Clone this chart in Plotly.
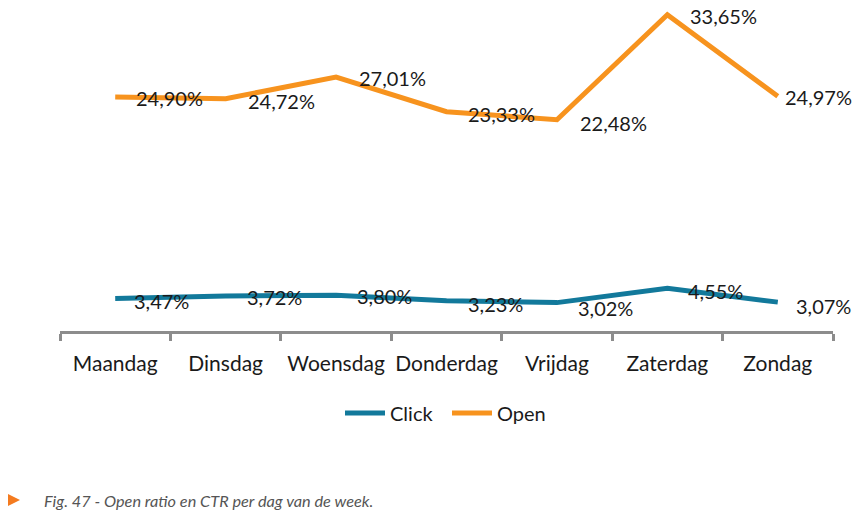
import plotly.graph_objects as go

days = ["Maandag", "Dinsdag", "Woensdag", "Donderdag", "Vrijdag", "Zaterdag", "Zondag"]
click = [3.47, 3.72, 3.80, 3.23, 3.02, 4.55, 3.07]
open_ = [24.90, 24.72, 27.01, 23.33, 22.48, 33.65, 24.97]
caption = "Fig. 47 - Open ratio en CTR per dag van de week."

W, H = 860, 514
ML, MR, MT, MB = 60, 27, 2, 183
PW, PH = W - ML - MR, H - MT - MB

BLUE = "#12799B"
ORANGE = "#F7931E"
FONT = "Lato"

def fmt(v):
    return f"{v:.2f}%".replace(".", ",")

fig = go.Figure()
fig.add_trace(go.Scatter(x=days, y=click, name="Click", mode="lines",
                         line=dict(color=BLUE, width=5)))
fig.add_trace(go.Scatter(x=days, y=open_, name="Open", mode="lines",
                         line=dict(color=ORANGE, width=5)))

shifts_click = [17, 19, 19, 19, 19, 19, 16]
yshift_click = [-3, -1, -1, -3, -5, -3, -4]
shifts_open = [19, 20, 21, 19, 21, 21, 5]
yshift_open = [-1, -2, -1, -2, -3, -1, -1]

for i, d in enumerate(days):
    fig.add_annotation(x=d, y=click[i], text=fmt(click[i]), showarrow=False,
                       xanchor="left", yanchor="middle", xshift=shifts_click[i],
                       yshift=yshift_click[i],
                       font=dict(family=FONT, size=20, color="#1a1a1a"))
    fig.add_annotation(x=d, y=open_[i], text=fmt(open_[i]), showarrow=False,
                       xanchor="left", yanchor="middle", xshift=shifts_open[i],
                       yshift=yshift_open[i],
                       font=dict(family=FONT, size=20, color="#1a1a1a"))

def px(x):
    return (x - ML) / PW

def py(y):
    return (H - MB - y) / PH

# caption
fig.add_annotation(xref="paper", yref="paper", x=px(42), y=py(500), text=caption,
                   showarrow=False, xanchor="left", yanchor="middle",
                   font=dict(family=FONT, size=16.3, color="#555555", style="italic"))
fig.add_shape(type="path", xref="paper", yref="paper",
              path=f"M {px(8)} {py(494)} L {px(20)} {py(500)} L {px(8)} {py(506)} Z",
              fillcolor="#F47B20", line=dict(width=0))

fig.update_layout(
    width=W, height=H,
    margin=dict(l=ML, r=MR, t=MT, b=MB),
    paper_bgcolor="white", plot_bgcolor="white",
    font=dict(family=FONT, size=20, color="#1a1a1a"),
    showlegend=True,
    legend=dict(orientation="h", x=px(340), xanchor="left", y=py(413), yanchor="middle",
                font=dict(family=FONT, size=20, color="#1a1a1a"), itemwidth=40,
                entrywidth=52, entrywidthmode="pixels", tracegroupgap=0),
    xaxis=dict(type="category", range=[-0.5, 6.5], showgrid=False, zeroline=False,
               showline=True, linecolor="#8c8c8c", linewidth=3,
               ticks="outside", tickson="boundaries", ticklen=7, tickwidth=3,
               tickcolor="#8c8c8c", ticklabelstandoff=12, tickangle=0,
               tickfont=dict(family=FONT, size=21, color="#1a1a1a")),
    yaxis=dict(range=[0, 35], showgrid=False, zeroline=False, showline=False,
               showticklabels=False, ticks=""),
)

fig.write_html("out.html", config={"displayModeBar": False},
               post_script="document.body.style.margin='0';document.body.style.padding='0';")
